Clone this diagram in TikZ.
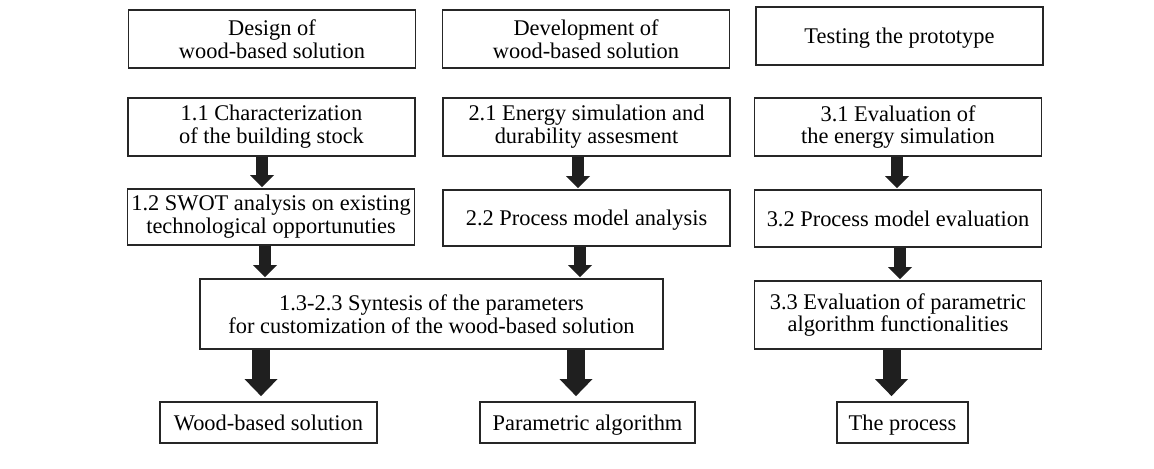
\documentclass[tikz,border=0pt]{standalone}
\usepackage{fontspec}
\setmainfont{Liberation Serif}
\usetikzlibrary{positioning,calc,arrows.meta}

\begin{document}
\begin{tikzpicture}[x=0.5pt,y=-0.5pt,
    box/.style={draw=black!85, line width=0.9pt, align=center, inner sep=0pt,
        font=\fontsize{11.2}{11.4}\selectfont, text=black},
    col/.style={box, minimum width=143.5pt},
    oneline/.style={text height=9.8pt, text depth=2.2pt},
    flow/.style={draw=black!88, line width=6pt,
        -{Triangle[width=12pt,length=6pt,line width=0pt]}, shorten >=0.5pt},
    bigflow/.style={draw=black!88, line width=9pt,
        -{Triangle[width=16.5pt,length=8.5pt,line width=0pt]}, shorten >=2.5pt}]
    \useasboundingbox (0,0) rectangle (1154,469);

    % headers
    \node[col, minimum height=29pt] (head1) at (272,39) {Design of\\wood-based solution};
    \node[col, minimum height=29pt] (head2) at (586,39) {Development of\\wood-based solution};
    \node[col, oneline, minimum height=29pt] (head3) at (899.5,36) {Testing the prototype};

    % Design
    \node[col, minimum height=29pt] (s11) at (271.5,127) {1.1 Characterization\\of the building stock};
    \node[col, minimum height=28pt] (s12) at (271,217) {1.2 SWOT analysis on existing\\technological opportunuties};

    % Development
    \node[col, minimum height=29pt] (s21) at (586.5,127) {2.1 Energy simulation and\\durability assesment};
    \node[col, oneline, minimum height=28pt] (s22) at (586.5,218) {2.2 Process model analysis};

    % Testing
    \node[col, minimum height=29pt] (s31) at (898,127) {3.1 Evaluation of\\the energy simulation};
    \node[col, oneline, minimum height=28.5pt] (s32) at (898,218.5) {3.2 Process model evaluation};
    \node[col, minimum height=34pt] (s33) at (898,315) {3.3 Evaluation of parametric\\algorithm functionalities};

    \node[box, minimum width=231.5pt, minimum height=35pt] (syn) at (431.5,314)
        {1.3-2.3 Syntesis of the parameters\\for customization of the wood-based solution};

    % results
    \node[box, oneline, minimum width=108.5pt, minimum height=20.5pt] (out1) at (268.5,422.5) {Wood-based solution};
    \node[box, oneline, minimum width=107.5pt, minimum height=20.5pt] (out2) at (587.5,422.5) {Parametric algorithm};
    \node[box, oneline, minimum width=65.5pt, minimum height=20.5pt] (out3) at (902.5,422.5) {The process};

    % arrows
    \draw[flow] ([xshift=-4.75pt]s11.south) -- ([xshift=-4.75pt]s11.south |- s12.north);
    \draw[flow] ([xshift=-3pt]s12.south) -- ([xshift=-3pt]s12.south |- syn.north);
    \draw[flow] ([xshift=-4.25pt]s21.south) -- ([xshift=-4.25pt]s21.south |- s22.north);
    \draw[flow] ([xshift=-3.25pt]s22.south) -- ([xshift=-3.25pt]s22.south |- syn.north);
    \draw[flow] ([xshift=-0.5pt]s31.south) -- ([xshift=-0.5pt]s31.south |- s32.north);
    \draw[flow] ([xshift=1pt]s32.south) -- ([xshift=1pt]s32.south |- s33.north);
    \draw[bigflow] ([xshift=-3.75pt]out1.north |- syn.south) -- ([xshift=-3.75pt]out1.north);
    \draw[bigflow] ([xshift=-5.75pt]out2.north |- syn.south) -- ([xshift=-5.75pt]out2.north);
    \draw[bigflow] ([xshift=-3.25pt]s33.south) -- ([xshift=-3.25pt]s33.south |- out3.north);
\end{tikzpicture}
\end{document}
